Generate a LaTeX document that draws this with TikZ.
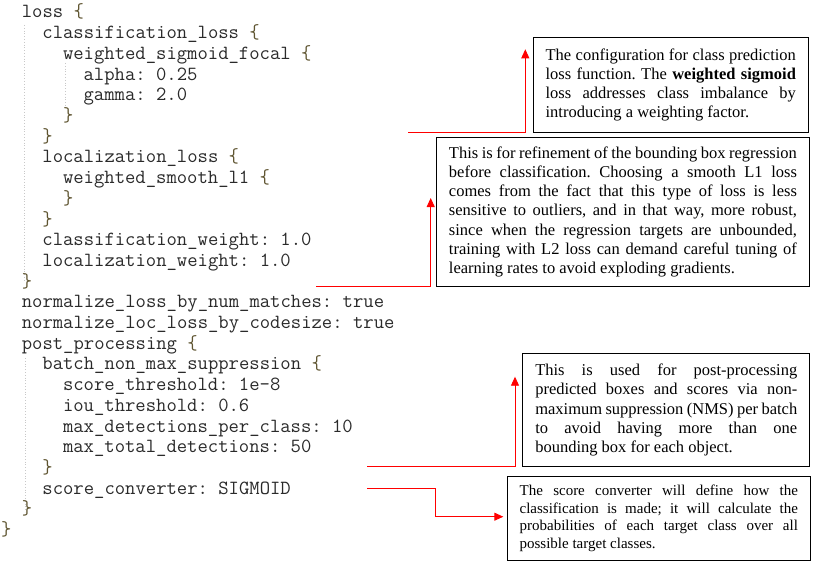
\documentclass[tikz,border=0pt]{standalone}
\usepackage{fontspec}
\setmainfont{Liberation Serif}
\usetikzlibrary{arrows.meta,calc}
\definecolor{codegray}{HTML}{2A2A2A}
\definecolor{bracecol}{HTML}{5E5430}
\definecolor{guide}{HTML}{C8C8C8}
\definecolor{arrred}{HTML}{FF0000}
\frenchspacing
\newcommand\jl[1]{\makebox[\linewidth][s]{#1}\par}
\newcommand\lb{{\color{bracecol}\{}}
\newcommand\rb{{\color{bracecol}\}}}
\tikzset{
  codeline/.style={anchor=base west,inner sep=0pt,font=\ttfamily\fontsize{20.1}{20}\selectfont,text=codegray},
  notebox/.style={draw=black,line width=0.9pt,inner xsep=12.5pt,inner ysep=0pt,anchor=north west,
     font=\fontsize{16.5}{19.2}\selectfont\frenchspacing,align=justify},
  arr/.style={draw=arrred,line width=0.9pt,-{Triangle[length=9pt,width=8pt]}},
  guideline/.style={draw=guide,line width=0.8pt,dotted}
}
\begin{document}
\begin{tikzpicture}[x=1pt,y=-1pt]
\useasboundingbox (0,0) rectangle (819,567);
% indentation guides
\draw[guideline] (24,25) -- (24,280);
\draw[guideline] (65,63) -- (65,106);
\draw[guideline] (25,358) -- (25,512);
% code lines
\def\cx#1{\fpeval{1+10.3*#1}}
\def\by#1{\fpeval{18+20.7*#1}}
\node[codeline] (l1)  at (\cx{2},\by{0})  {loss \lb};
\node[codeline] (l2)  at (\cx{4},\by{1})  {classification\_loss \lb};
\node[codeline] (l3)  at (\cx{6},\by{2})  {weighted\_sigmoid\_focal \lb};
\node[codeline] (l4)  at (\cx{8},\by{3})  {alpha: 0.25};
\node[codeline] (l5)  at (\cx{8},\by{4})  {gamma: 2.0};
\node[codeline] (l6)  at (\cx{6},\by{5})  {\rb};
\node[codeline] (l7)  at (\cx{4},\by{6})  {\rb};
\node[codeline] (l8)  at (\cx{4},\by{7})  {localization\_loss \lb};
\node[codeline] (l9)  at (\cx{6},\by{8})  {weighted\_smooth\_l1 \lb};
\node[codeline] (l10) at (\cx{6},\by{9})  {\rb};
\node[codeline] (l11) at (\cx{4},\by{10}) {\rb};
\node[codeline] (l12) at (\cx{4},\by{11}) {classification\_weight: 1.0};
\node[codeline] (l13) at (\cx{4},\by{12}) {localization\_weight: 1.0};
\node[codeline] (l14) at (\cx{2},\by{13}) {\rb};
\node[codeline] (l15) at (\cx{2},\by{14}) {normalize\_loss\_by\_num\_matches: true};
\node[codeline] (l16) at (\cx{2},\by{15}) {normalize\_loc\_loss\_by\_codesize: true};
\node[codeline] (l17) at (\cx{2},\by{16}) {post\_processing \lb};
\node[codeline] (l18) at (\cx{4},\by{17}) {batch\_non\_max\_suppression \lb};
\node[codeline] (l19) at (\cx{6},\by{18}) {score\_threshold: 1e-8};
\node[codeline] (l20) at (\cx{6},\by{19}) {iou\_threshold: 0.6};
\node[codeline] (l21) at (\cx{6},\by{20}) {max\_detections\_per\_class: 10};
\node[codeline] (l22) at (\cx{6},\by{21}) {max\_total\_detections: 50};
\node[codeline] (l23) at (\cx{4},\by{22}) {\rb};
\node[codeline] (l24) at (\cx{4},\by{23}) {score\_converter: SIGMOID};
\node[codeline] (l25) at (\cx{2},\by{24}) {\rb};
\node[codeline] (l26) at (\cx{0},\by{25}) {\rb};
% note boxes
\node[notebox,text width=250.3pt,minimum width=275.3pt,minimum height=94.4pt] (b1) at (532.7,37.3) {%
\jl{The configuration for class prediction}
\jl{loss function. The \textbf{weighted sigmoid}}
\jl{loss addresses class imbalance by}
introducing a weighting factor.\par};
\node[notebox,text width=348pt,minimum width=373pt,minimum height=149.3pt] (b2) at (436,136.7) {%
\jl{This is for refinement of the bounding box regression}
\jl{before classification. Choosing a smooth L1 loss}
\jl{comes from the fact that this type of loss is less}
\jl{sensitive to outliers, and in that way, more robust,}
\jl{since when the regression targets are unbounded,}
\jl{training with L2 loss can demand careful tuning of}
learning rates to avoid exploding gradients.\par};
\node[notebox,text width=262pt,minimum width=287pt,minimum height=112.7pt] (b3) at (522.3,353.3) {%
\jl{This is used for post-processing}
\jl{predicted boxes and scores via non-}
\jl{maximum suppression (NMS) per batch}
\jl{to avoid having more than one}
bounding box for each object.\par};
\node[notebox,font=\fontsize{15}{17.6}\selectfont\frenchspacing,text width=278.3pt,minimum width=303.3pt,minimum height=84.3pt] (b4) at (506.7,475.7) {%
\jl{The score converter will define how the}
\jl{classification is made; it will calculate the}
\jl{probabilities of each target class over all}
possible target classes.\par};
% connectors
\coordinate (s1) at (408,132.7);
\coordinate (t1) at (525.3,49.3);
\coordinate (s2) at (316,286);
\coordinate (t2) at (430.7,198);
\coordinate (s3) at (367,466.7);
\coordinate (t3) at (515,376.7);
\coordinate (s4) at (367,488.3);
\coordinate (t4) at (503.3,516.7);
\draw[arr] (s1) -| (t1);
\draw[arr] (s2) -| (t2);
\draw[arr] (s3) -| (t3);
\draw[arr] (s4) -- ++(68.7,0) |- (t4);
\end{tikzpicture}
\end{document}
